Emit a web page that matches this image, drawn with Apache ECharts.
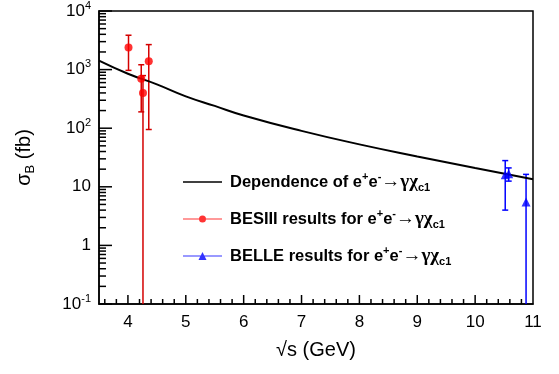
<!DOCTYPE html>
<html>
<head>
<meta charset="utf-8">
<script src="https://cdn.jsdelivr.net/npm/echarts@6/dist/echarts.min.js"></script>
<style>
  html, body { margin: 0; padding: 0; background: #fff; }
  #chart { width: 559px; height: 374px; }
</style>
</head>
<body>
<div id="chart"></div>
<script>
// theory curve
const curveX = [3.5, 4, 4.5, 5, 5.5, 6, 7, 8, 9, 10, 11];
const curveY = [1420, 850, 560, 350, 240, 165, 90, 53, 33, 21, 13.5];

// BESIII points (lo = 0.1 means the bar runs to the axis)
const besX = [4.01, 4.23, 4.26, 4.36];
const besY = [2380, 700, 400, 1390];
const besLo = [970, 190, 0.1, 95];
const besHi = [3860, 1210, 790, 2670];

// BELLE points
const belX = [10.52, 10.58, 10.88];
const belY = [16, 16.7, 5.5];
const belLo = [4, 12.5, 0.1];
const belHi = [28, 21, 16.3];

const xMin = 3.5, xMax = 11;
const yMin = 0.1, yMax = 10000;
const minorMult = [2, 3, 4, 5, 6, 7, 8, 9];

const FONT = 'Liberation Sans';

const nameCurve = 'Dependence of e+e-→γχc1';
const nameBes = 'BESIII results for e+e-→γχc1';
const nameBel = 'BELLE results for e+e-→γχc1';
const legendRich = {
  [nameCurve]: 'Dependence of e{sup|+}e{sup|-}{sym|→γχ}{sub|c1}',
  [nameBes]: 'BESIII results for e{sup|+}e{sup|-}{sym|→γχ}{sub|c1}',
  [nameBel]: 'BELLE results for e{sup|+}e{sup|-}{sym|→γχ}{sub|c1}'
};

function errorBars(color) {
  return function (params, api) {
    const x = api.value(0);
    const lo = api.coord([x, api.value(1)]);
    const hi = api.coord([x, api.value(2)]);
    const cap = 3;
    const st = { stroke: color, lineWidth: 1.5 };
    const kids = [
      { type: 'line', shape: { x1: lo[0], y1: lo[1], x2: hi[0], y2: hi[1] }, style: st },
      { type: 'line', shape: { x1: hi[0] - cap, y1: hi[1], x2: hi[0] + cap, y2: hi[1] }, style: st }
    ];
    if (api.value(1) > yMin) {
      kids.push({ type: 'line', shape: { x1: lo[0] - cap, y1: lo[1], x2: lo[0] + cap, y2: lo[1] }, style: st });
    }
    return { type: 'group', children: kids };
  };
}

const chart = echarts.init(document.getElementById('chart'));
chart.setOption({
  animation: false,
  grid: { left: 99, right: 26, top: 10, bottom: 70, show: true, borderColor: '#000', borderWidth: 1.5 },
  legend: {
    orient: 'vertical',
    left: 183,
    top: 171,
    padding: 0,
    itemWidth: 39,
    itemHeight: 10,
    itemGap: 15,
    selectedMode: false,
    itemStyle: { borderWidth: 0 },
    data: [
      { name: nameCurve, icon: 'path://M0,0H39V1.6H0Z' },
      { name: nameBes, icon: 'path://M0,3.5H39V4.5H0Z M16,4 A3.5,3.5 0 1 1 23,4 A3.5,3.5 0 1 1 16,4 Z' },
      { name: nameBel, icon: 'path://M0,3.5H39V4.5H0Z M15.5,8 L19.5,0 L23.5,8 Z' }
    ],
    formatter: function (n) { return legendRich[n]; },
    textStyle: {
      fontFamily: FONT, fontWeight: 'bold', fontSize: 16.5, color: '#000', lineHeight: 22,
      padding: [0, 0, 0, 3],
      rich: {
        sup: { fontFamily: FONT, fontWeight: 'bold', fontSize: 11, verticalAlign: 'top', lineHeight: 20 },
        sub: { fontFamily: FONT, fontWeight: 'bold', fontSize: 11, verticalAlign: 'bottom', lineHeight: 16 },
        sym: { fontFamily: 'Liberation Serif', fontSize: 19, color: '#000', lineHeight: 22 }
      }
    }
  },
  xAxis: {
    type: 'value',
    min: xMin,
    max: xMax,
    splitNumber: 8,
    name: '√s (GeV)',
    nameLocation: 'middle',
    nameGap: 36,
    nameTextStyle: { fontFamily: FONT, fontSize: 20, color: '#000' },
    axisLine: { show: true, lineStyle: { color: '#000', width: 1.5 } },
    axisTick: { show: false },
    splitLine: { show: false },
    axisLabel: {
      fontFamily: FONT, fontSize: 17, color: '#000', margin: 10,
      formatter: function (v) { return v % 1 === 0 ? String(v) : ''; }
    }
  },
  yAxis: {
    type: 'log',
    logBase: 10,
    min: yMin,
    max: yMax,
    name: '{t|σ}{b|B}{t| (fb)}',
    nameLocation: 'middle',
    nameGap: 62,
    nameTextStyle: {
      color: '#000',
      rich: {
        t: { fontFamily: FONT, fontSize: 20, color: '#000', lineHeight: 26 },
        b: { fontFamily: FONT, fontSize: 13, color: '#000', verticalAlign: 'bottom', lineHeight: 20 }
      }
    },
    axisLine: { show: true, lineStyle: { color: '#000', width: 1.5 } },
    axisTick: { show: false },
    splitLine: { show: false },
    axisLabel: {
      margin: 8,
      color: '#000',
      formatter: function (v) {
        const e = Math.round(Math.log10(v));
        if (e === 0) return '{n|1}';
        if (e === 1) return '{n|10}';
        return '{n|10}{s|' + e + '}';
      },
      rich: {
        n: { fontFamily: FONT, fontSize: 17, color: '#000', lineHeight: 22 },
        s: { fontFamily: FONT, fontSize: 11, color: '#000', verticalAlign: 'top', lineHeight: 22 }
      }
    }
  },
  series: [
    {
      name: 'besErr',
      type: 'custom',
      silent: true,
      encode: { x: 0, y: [1, 2] },
      data: besX.map(function (x, i) { return [x, besLo[i], besHi[i]]; }),
      renderItem: errorBars('#d40000'),
      z: 3
    },
    {
      name: 'belErr',
      type: 'custom',
      silent: true,
      encode: { x: 0, y: [1, 2] },
      data: belX.map(function (x, i) { return [x, belLo[i], belHi[i]]; }),
      renderItem: errorBars('#0000ff'),
      z: 3
    },
    {
      name: nameCurve,
      type: 'line',
      smooth: true,
      symbol: 'none',
      color: '#000',
      lineStyle: { color: '#000', width: 2 },
      data: curveX.map(function (x, i) { return [x, curveY[i]]; }),
      z: 4
    },
    {
      name: nameBes,
      type: 'scatter',
      symbol: 'circle',
      symbolSize: 8,
      color: '#ff0000',
      data: besX.map(function (x, i) { return [x, besY[i]]; }),
      z: 5
    },
    {
      name: nameBel,
      type: 'scatter',
      symbol: 'triangle',
      symbolSize: 9,
      color: '#0000ff',
      data: belX.map(function (x, i) { return [x, belY[i]]; }),
      z: 5
    }
  ]
});

// inside ticks, placed through the chart's own scales
const ticks = [];
function tick(x1, y1, x2, y2) {
  ticks.push({ type: 'line', silent: true, z: 100,
    shape: { x1: x1, y1: y1, x2: x2, y2: y2 },
    style: { stroke: '#000', lineWidth: 1.5 } });
}
for (let e = -1; e <= 4; e++) {
  const p = chart.convertToPixel({ gridIndex: 0 }, [xMin, Math.pow(10, e)]);
  tick(p[0], p[1], p[0] + 13, p[1]);
  if (e < 4) {
    minorMult.forEach(function (m) {
      const q = chart.convertToPixel({ gridIndex: 0 }, [xMin, m * Math.pow(10, e)]);
      tick(q[0], q[1], q[0] + 7, q[1]);
    });
  }
}
for (let i = 18; i <= 54; i++) {
  const p = chart.convertToPixel({ gridIndex: 0 }, [i / 5, yMin]);
  const len = i % 5 === 0 ? 9 : 5;
  tick(p[0], p[1], p[0], p[1] - len);
}
chart.setOption({ graphic: { elements: ticks } });
</script>
</body>
</html>
